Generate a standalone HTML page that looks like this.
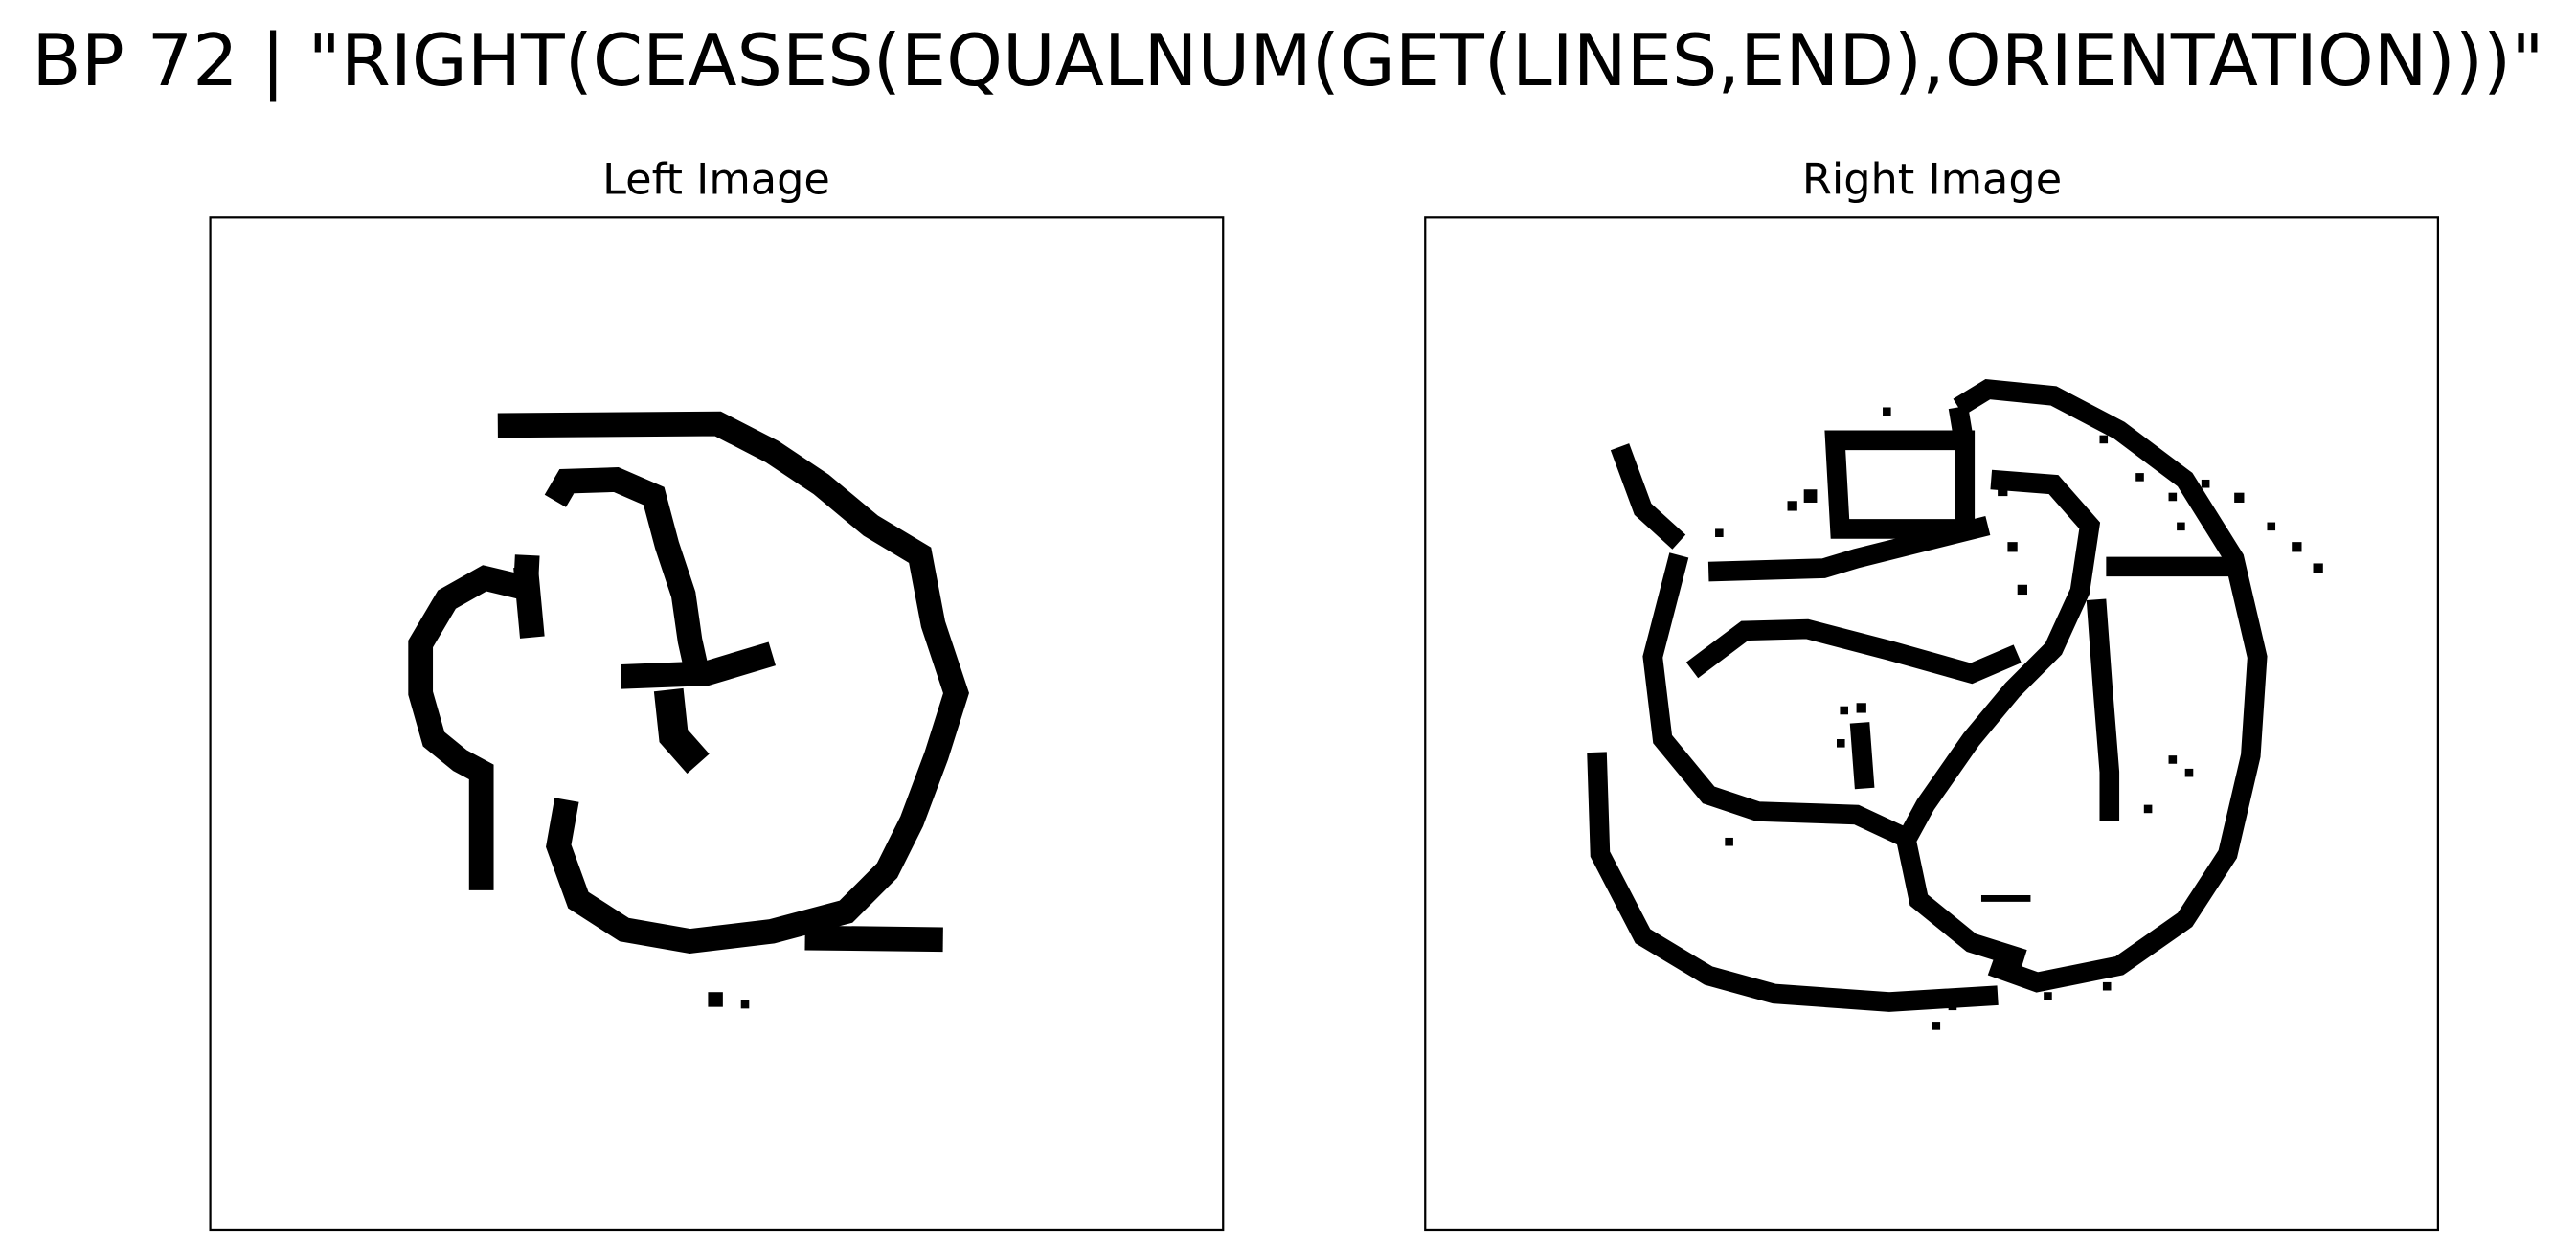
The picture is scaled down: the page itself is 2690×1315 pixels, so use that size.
<!DOCTYPE html>
<html><head><meta charset="utf-8"><style>
html,body{margin:0;padding:0;background:#fff;}
svg{display:block;}
text{font-family:"DejaVu Sans","Liberation Sans",sans-serif;fill:#000;}
</style></head><body>
<svg width="2690" height="1315" viewBox="0 0 1568 766.5" xmlns="http://www.w3.org/2000/svg">
<text x="784" y="52" font-size="43.6" text-anchor="middle">BP 72 | "RIGHT(CEASES(EQUALNUM(GET(LINES,END),ORIENTATION)))"</text>
<text x="436" y="118" font-size="26" text-anchor="middle">Left Image</text>
<text x="1176" y="118" font-size="26" text-anchor="middle">Right Image</text>

<g fill="none" stroke="#000" stroke-width="15" stroke-linejoin="miter">
<polyline points="303,259 437,258 470,275 500,295 530,320 560,338 568,380 582,422 570,460 555,500 540,530 515,555 470,567 420,573 380,566 352,548 340,515 345,487"/>
<polyline points="490,571 574,572"/>
<polyline points="338,305 345,293 375,292 398,302 406,332 416,362 420,390 424,408"/>
<polyline points="378,412 430,410 470,398"/>
<polyline points="407,420 410,448 425,465" stroke-width="18"/>
<polyline points="321,338 320,358 295,352 272,365 256,392 256,422 264,450 280,463 293,470 293,542"/>
<polyline points="320,345 324,388"/>
<rect x="431" y="604" width="9" height="9" fill="#000" stroke="none"/>
<rect x="451" y="609" width="5" height="5" fill="#000" stroke="none"/>
</g>

<g fill="none" stroke="#000" stroke-width="12">
<polyline points="1192,248 1210,237 1250,241 1290,262 1330,292 1360,340 1374,400 1370,460 1356,520 1330,560 1290,588 1240,598 1212,588"/>
<polyline points="972,458 974,520 1000,570 1040,594 1080,605 1150,610 1216,606"/>
<polyline points="986,272 1000,310 1022,330"/>
<polyline points="1022,338 1006,400 1012,450 1040,484 1070,494 1130,496 1160,510 1168,548 1200,574 1232,584"/>
<polyline points="1030,408 1062,384 1100,383 1150,396 1200,410 1228,398"/>
<polygon points="1117,268 1196,268 1196,322 1120,322"/>
<polyline points="1192,248 1196,272"/>
<polyline points="1212,292 1250,295 1272,320 1266,360 1250,395 1225,420 1200,450 1172,490 1160,512"/>
<polyline points="1282,345 1362,345"/>
<polyline points="1276,365 1280,420 1284,470 1284,500"/>
<polyline points="1040,348 1110,346 1130,340 1210,320"/>
<polyline points="1132,440 1135,480"/>
<g fill="#000" stroke="none">
<rect x="1278" y="265" width="5" height="5"/><rect x="1300" y="288" width="5" height="5"/><rect x="1320" y="300" width="5" height="5"/>
<rect x="1340" y="292" width="5" height="5"/><rect x="1360" y="300" width="6" height="6"/><rect x="1380" y="318" width="5" height="5"/>
<rect x="1395" y="330" width="6" height="6"/><rect x="1408" y="343" width="6" height="6"/><rect x="1325" y="318" width="5" height="5"/>
<rect x="1146" y="248" width="5" height="5"/><rect x="1044" y="322" width="5" height="5"/><rect x="1055" y="348" width="5" height="5"/>
<rect x="1120" y="430" width="5" height="5"/><rect x="1130" y="428" width="6" height="6"/><rect x="1118" y="450" width="5" height="5"/>
<rect x="1320" y="460" width="5" height="5"/><rect x="1330" y="468" width="5" height="5"/><rect x="1305" y="490" width="5" height="5"/>
<rect x="1050" y="510" width="5" height="5"/><rect x="1176" y="622" width="5" height="5"/><rect x="1186" y="610" width="5" height="5"/>
<rect x="1244" y="604" width="5" height="5"/><rect x="1280" y="598" width="5" height="5"/><rect x="1206" y="545" width="30" height="4"/>
<rect x="1216" y="296" width="6" height="6"/><rect x="1222" y="330" width="6" height="6"/><rect x="1228" y="356" width="6" height="6"/>
<rect x="1098" y="298" width="8" height="8"/><rect x="1088" y="305" width="6" height="6"/>
</g>
</g>

<rect x="128" y="132.5" width="616.5" height="616.5" fill="none" stroke="#000" stroke-width="1.3"/>
<rect x="867.5" y="132.5" width="616.5" height="616.5" fill="none" stroke="#000" stroke-width="1.3"/>
</svg>
</body></html>
